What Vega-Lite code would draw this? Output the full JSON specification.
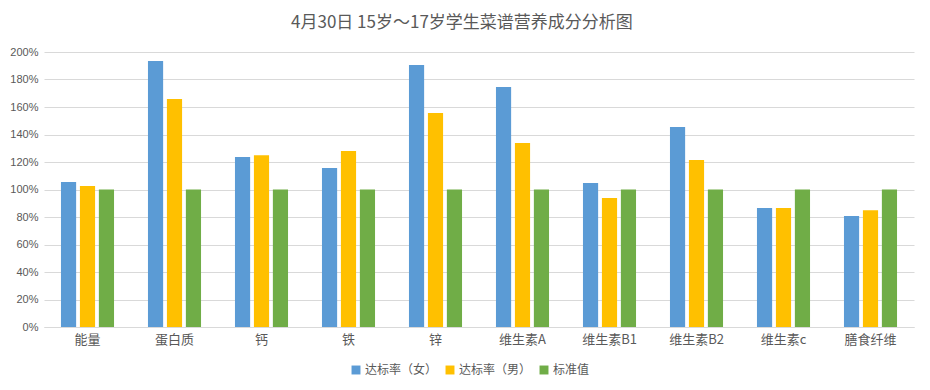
{
  "$schema": "https://vega.github.io/schema/vega-lite/v6.json",
  "width": 870,
  "height": 275,
  "autosize": {"type": "none"},
  "padding": {"left": 44, "top": 52, "right": 16, "bottom": 63},
  "background": "#ffffff",
  "title": {
    "text": "4月30日 15岁～17岁学生菜谱营养成分分析图",
    "anchor": "middle",
    "frame": "bounds",
    "font": "Noto Sans CJK SC",
    "fontSize": 17,
    "fontWeight": "normal",
    "color": "#595959",
    "offset": 14
  },
  "data": {
    "values": [
      {"item": "能量", "series": "达标率（女）", "value": 1.055},
      {"item": "能量", "series": "达标率（男）", "value": 1.025},
      {"item": "能量", "series": "标准值", "value": 1.0},
      {"item": "蛋白质", "series": "达标率（女）", "value": 1.935},
      {"item": "蛋白质", "series": "达标率（男）", "value": 1.658},
      {"item": "蛋白质", "series": "标准值", "value": 1.0},
      {"item": "钙", "series": "达标率（女）", "value": 1.236},
      {"item": "钙", "series": "达标率（男）", "value": 1.25},
      {"item": "钙", "series": "标准值", "value": 1.0},
      {"item": "铁", "series": "达标率（女）", "value": 1.156},
      {"item": "铁", "series": "达标率（男）", "value": 1.28},
      {"item": "铁", "series": "标准值", "value": 1.0},
      {"item": "锌", "series": "达标率（女）", "value": 1.905},
      {"item": "锌", "series": "达标率（男）", "value": 1.556},
      {"item": "锌", "series": "标准值", "value": 1.0},
      {"item": "维生素A", "series": "达标率（女）", "value": 1.745},
      {"item": "维生素A", "series": "达标率（男）", "value": 1.338},
      {"item": "维生素A", "series": "标准值", "value": 1.0},
      {"item": "维生素B1", "series": "达标率（女）", "value": 1.047},
      {"item": "维生素B1", "series": "达标率（男）", "value": 0.938},
      {"item": "维生素B1", "series": "标准值", "value": 1.0},
      {"item": "维生素B2", "series": "达标率（女）", "value": 1.455},
      {"item": "维生素B2", "series": "达标率（男）", "value": 1.215},
      {"item": "维生素B2", "series": "标准值", "value": 1.0},
      {"item": "维生素c", "series": "达标率（女）", "value": 0.865},
      {"item": "维生素c", "series": "达标率（男）", "value": 0.865},
      {"item": "维生素c", "series": "标准值", "value": 1.0},
      {"item": "膳食纤维", "series": "达标率（女）", "value": 0.807},
      {"item": "膳食纤维", "series": "达标率（男）", "value": 0.85},
      {"item": "膳食纤维", "series": "标准值", "value": 1.0}
    ]
  },
  "mark": {"type": "bar"},
  "encoding": {
    "x": {
      "field": "item",
      "type": "nominal",
      "sort": null,
      "scale": {"paddingInner": 0.39, "paddingOuter": 0.195},
      "axis": {
        "title": null,
        "labelAngle": 0,
        "labelFont": "Noto Sans CJK SC",
        "labelFontSize": 13,
        "labelColor": "#595959",
        "labelPadding": 6,
        "ticks": false,
        "domainColor": "#D9D9D9",
        "domainWidth": 1,
        "grid": false
      }
    },
    "xOffset": {
      "field": "series",
      "type": "nominal",
      "sort": ["达标率（女）", "达标率（男）", "标准值"],
      "scale": {"paddingInner": 0.2, "paddingOuter": 0}
    },
    "y": {
      "field": "value",
      "type": "quantitative",
      "scale": {"domain": [0, 2], "nice": false},
      "axis": {
        "title": null,
        "values": [0, 0.2, 0.4, 0.6, 0.8, 1.0, 1.2, 1.4, 1.6, 1.8, 2.0],
        "format": ".0%",
        "labelFont": "Liberation Sans",
        "labelFontSize": 11,
        "labelColor": "#595959",
        "labelPadding": 6,
        "ticks": false,
        "domain": false,
        "gridColor": "#D9D9D9",
        "gridWidth": 1
      }
    },
    "color": {
      "field": "series",
      "type": "nominal",
      "sort": ["达标率（女）", "达标率（男）", "标准值"],
      "scale": {
        "domain": ["达标率（女）", "达标率（男）", "标准值"],
        "range": ["#5B9BD5", "#FFC000", "#70AD47"]
      },
      "legend": {
        "title": null,
        "orient": "none",
        "legendX": 306,
        "legendY": 312,
        "direction": "horizontal",
        "symbolType": "square",
        "symbolSize": 80,
        "symbolStrokeWidth": 0,
        "labelFont": "Noto Sans CJK SC",
        "labelFontSize": 12,
        "labelColor": "#595959",
        "labelOffset": 3,
        "columnPadding": 6
      }
    }
  },
  "config": {
    "view": {"stroke": null}
  }
}
